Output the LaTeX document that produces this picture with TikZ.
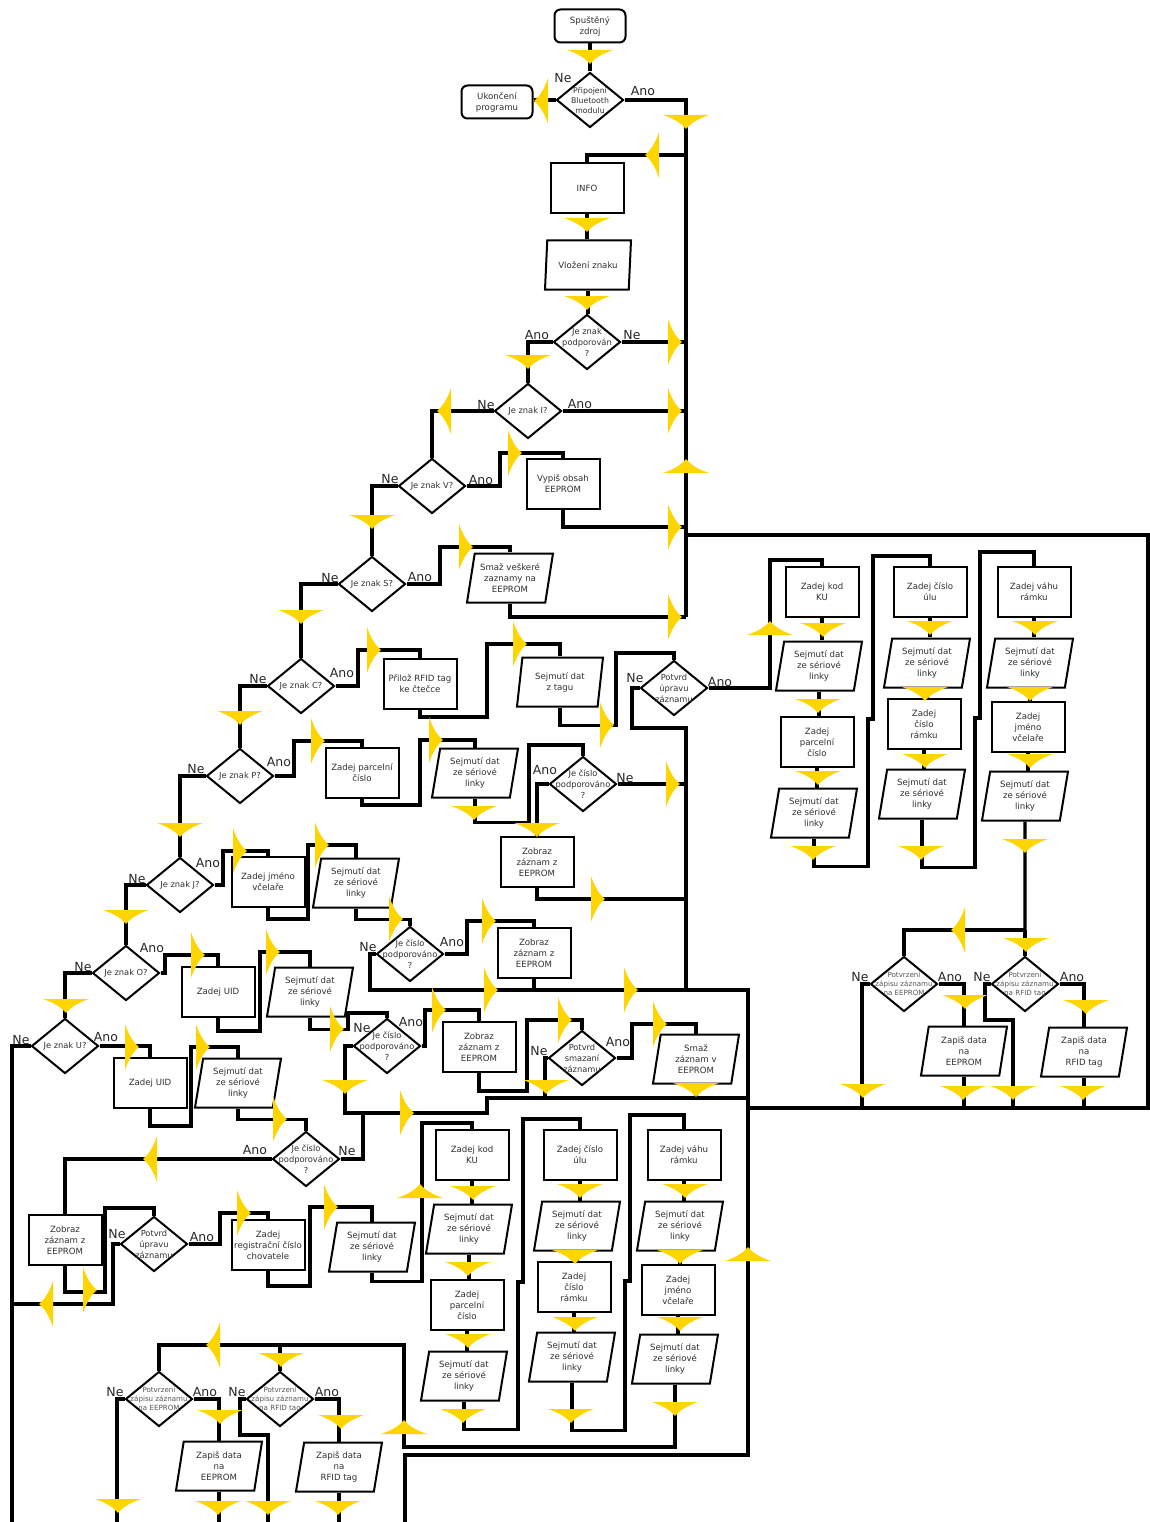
\documentclass[tikz,border=0pt]{standalone}
\usepackage{fontspec}
\setmainfont{DejaVu Sans}
\usepackage{xcolor}
\usepackage{tikz}
\usetikzlibrary{shapes.geometric}
\definecolor{fcInk}{HTML}{303030}
\definecolor{fcMuted}{HTML}{555555}
\definecolor{fcTip}{HTML}{FFD500}
\pgfdeclarelayer{front}
\pgfsetlayers{main,front}
\tikzset{
  fc diagram/.style={font=\fontsize{8.6}{11}\selectfont, text=fcInk},
  fc shape/.style={draw=black, line width=2pt, fill=white, align=center, inner sep=1pt},
  fc box/.style={fc shape, rectangle, minimum width=73pt, minimum height=50pt},
  fc terminal/.style={fc shape, rectangle, rounded corners=6pt, minimum width=71pt, minimum height=33pt},
  fc io/.style={fc shape, trapezium, trapezium left angle=76, trapezium right angle=104,
    trapezium stretches body=true, minimum width=86pt, minimum height=49pt, inner xsep=0pt},
  fc decision/.style={fc shape, diamond, minimum width=67pt, minimum height=55pt, inner sep=0pt},
  fc dtext/.style={align=center, inner sep=0pt, font=\fontsize{8.3}{11}\selectfont},
  fc dmid/.style={fc dtext, font=\fontsize{7.8}{10}\selectfont},
  fc dsmall/.style={fc dtext, font=\fontsize{7.1}{8.9}\selectfont, text=fcMuted},
  fc answer/.style={font=\fontsize{12.5}{13}\selectfont, text=black!85, inner sep=0pt},
  fc line/.style={draw=black, line width=3.2pt},
  fc down/.style={rotate=-90},
  fc up/.style={rotate=90},
  fc left/.style={rotate=180},
  fc tip/.pic={\begin{pgfonlayer}{front}
    \fill[fcTip] (7,0) .. controls (2,4) and (-3,11) .. (-7,23) -- (-7,-23)
      .. controls (-3,-11) and (2,-4) .. (7,0) -- cycle;
    \end{pgfonlayer}}
}
\newcommand{\fcColumns}{%
  \node[fc box] (kod) at (472,1155) {Zadej kod\\KU};
  \node[fc io] (kodSer) at (469,1229) {Sejmutí dat\\ze sériové\\linky};
  \node[fc box] (parc) at (467,1305) {Zadej\\parcelní\\číslo};
  \node[fc io] (parcSer) at (464,1376) {Sejmutí dat\\ze sériové\\linky};
  \node[fc box] (ul) at (580,1155) {Zadej číslo\\úlu};
  \node[fc io] (ulSer) at (577,1226) {Sejmutí dat\\ze sériové\\linky};
  \node[fc box] (ram) at (574,1287) {Zadej\\číslo\\rámku};
  \node[fc io] (ramSer) at (572,1357) {Sejmutí dat\\ze sériové\\linky};
  \node[fc box] (vaha) at (684,1155) {Zadej váhu\\rámku};
  \node[fc io] (vahaSer) at (680,1226) {Sejmutí dat\\ze sériové\\linky};
  \node[fc box] (jmeno) at (678,1290) {Zadej\\jméno\\včelaře};
  \node[fc io] (jmenoSer) at (675,1359) {Sejmutí dat\\ze sériové\\linky};
  \draw[fc line] (kod.south) -- (kod.south |- kodSer.north);
  \draw[fc line] (kodSer.south) -- (kodSer.south |- parc.north);
  \draw[fc line] (parc.south) -- (parc.south |- parcSer.north);
  \draw[fc line] (parcSer.south) -- ++(0,28) -| (518,1282) -- (523,1282) -- (523,1119) -| (ul.north);
  \draw[fc line] (ul.south) -- (ul.south |- ulSer.north);
  \draw[fc line] (ulSer.south) -- (ulSer.south |- ram.north);
  \draw[fc line] (ram.south) -- (ram.south |- ramSer.north);
  \draw[fc line] (ramSer.south) -- ++(0,48) -| (625,1281) -- (630,1281) -- (630,1115) -| (vaha.north);
  \draw[fc line] (vaha.south) -- (vaha.south |- vahaSer.north);
  \draw[fc line] (vahaSer.south) -- (vahaSer.south |- jmeno.north);
  \draw[fc line] (jmeno.south) -- (jmeno.south |- jmenoSer.north);
  \pic[fc down] at (473,1193) {fc tip};
  \pic[fc down] at (468,1269) {fc tip};
  \pic[fc down] at (468,1341) {fc tip};
  \pic[fc down] at (463,1416) {fc tip};
  \pic[fc down] at (580,1191) {fc tip};
  \pic[fc down] at (575,1257) {fc tip};
  \pic[fc down] at (575,1324) {fc tip};
  \pic[fc down] at (571,1416) {fc tip};
  \pic[fc down] at (685,1191) {fc tip};
  \pic[fc down] at (680,1257) {fc tip};
  \pic[fc down] at (680,1324) {fc tip};
  \pic[fc down] at (675,1409) {fc tip};
}
\newcommand{\fcWrite}{%
  \coordinate (wrjoin) at (280,1345);
  \coordinate (wrBase) at (0,1523);
  \node[fc decision, label={[fc dsmall]center:Potvrzení\\zápisu záznamu\\na EEPROM}] (wrEq) at (159,1399) {};
  \node[fc decision, label={[fc dsmall]center:Potvrzení\\zápisu záznamu\\na RFID tag}] (wrRq) at (280,1399) {};
  \node[fc io] (wrE) at (219,1466) {Zapiš data\\na\\EEPROM};
  \node[fc io] (wrR) at (339,1467) {Zapiš data\\na\\RFID tag};
  \node[fc answer] (wrEq-ne) at (115,1392) {Ne};
  \node[fc answer] (wrEq-ano) at (205,1392) {Ano};
  \node[fc answer] (wrRq-ne) at (237,1392) {Ne};
  \node[fc answer] (wrRq-ano) at (327,1392) {Ano};
  \draw[fc line] (wrjoin) -| (wrEq.north);
  \draw[fc line] (wrjoin) -- (wrRq.north);
  \draw[fc line] (wrEq.west) -| (117,1523);
  \draw[fc line] (wrEq.east) -| (wrE.north);
  \draw[fc line] (wrE.south) -- (wrE.south |- wrBase);
  \draw[fc line] (wrRq.west) -| (240,1435) -| (268,1523);
  \draw[fc line] (wrRq.east) -| (wrR.north);
  \draw[fc line] (wrR.south) -- (wrR.south |- wrBase);
  \pic[fc left] at (213,1345) {fc tip};
  \pic[fc down] at (281,1360) {fc tip};
  \pic[fc down] at (118,1506) {fc tip};
  \pic[fc down] at (220,1417) {fc tip};
  \pic[fc down] at (218,1508) {fc tip};
  \pic[fc down] at (268,1508) {fc tip};
  \pic[fc down] at (341,1422) {fc tip};
  \pic[fc down] at (338,1508) {fc tip};
}
\begin{document}
\begin{tikzpicture}[fc diagram, x=1pt, y=-1pt]
\useasboundingbox (0,0) rectangle (1150,1522);
\node[fc terminal] (start) at (590,26) {Spuštěný\\zdroj};
\node[fc decision, label={[fc dmid]center:Připojení\\Bluetooth\\modulu}] (dBT) at (590,100) {};
\node[fc terminal] (stop) at (497,102) {Ukončení\\programu};
\node[fc box] (info) at (587,188) {INFO};
\node[fc io] (vloz) at (588,265) {Vložení znaku};
\node[fc decision, label={[fc dtext]center:Je znak\\podporován\\?}] (dPodp) at (587,342) {};
\node[fc decision, label={[fc dtext]center:Je znak I?}] (dI) at (528,411) {};
\node[fc decision, label={[fc dtext]center:Je znak V?}] (dV) at (432,486) {};
\node[fc box] (vypis) at (563,484) {Vypiš obsah\\EEPROM};
\node[fc decision, label={[fc dtext]center:Je znak S?}] (dS) at (372,584) {};
\node[fc io] (smazVse) at (510,578) {Smaž veškeré\\zaznamy na\\EEPROM};
\node[fc decision, label={[fc dtext]center:Je znak C?}] (dC) at (301,686) {};
\node[fc box] (priloz) at (420,684) {Přilož RFID tag\\ke čtečce};
\node[fc io] (tagData) at (560,682) {Sejmutí dat\\z tagu};
\node[fc decision, label={[fc dtext]center:Potvrd\\úpravu\\záznamu}] (dEditC) at (674,688) {};
\node[fc decision, label={[fc dtext]center:Je znak P?}] (dP) at (240,776) {};
\node[fc box] (parcP) at (362,773) {Zadej parcelní\\číslo};
\node[fc io] (serP) at (475,773) {Sejmutí dat\\ze sériové\\linky};
\node[fc decision, label={[fc dtext]center:Je číslo\\podporováno\\?}] (numP) at (583,784) {};
\node[fc box] (showP) at (537,862) {Zobraz\\záznam z\\EEPROM};
\node[fc decision, label={[fc dtext]center:Je znak J?}] (dJ) at (180,885) {};
\node[fc box] (nameJ) at (268,882) {Zadej jméno\\včelaře};
\node[fc io] (serJ) at (356,883) {Sejmutí dat\\ze sériové\\linky};
\node[fc decision, label={[fc dtext]center:Je číslo\\podporováno\\?}] (numJ) at (410,954) {};
\node[fc box] (showJ) at (534,953) {Zobraz\\záznam z\\EEPROM};
\node[fc decision, label={[fc dtext]center:Je znak O?}] (dO) at (126,973) {};
\node[fc box] (uidO) at (218,992) {Zadej UID};
\node[fc io] (serO) at (310,992) {Sejmutí dat\\ze sériové\\linky};
\node[fc decision, label={[fc dtext]center:Je číslo\\podporováno\\?}] (numO) at (387,1046) {};
\node[fc box] (showO) at (479,1047) {Zobraz\\záznam z\\EEPROM};
\node[fc decision, label={[fc dtext]center:Potvrd\\smazaní\\záznamu}] (dDel) at (582,1058) {};
\node[fc io] (delRec) at (696,1059) {Smaž\\záznam v\\EEPROM};
\node[fc decision, label={[fc dtext]center:Je znak U?}] (dU) at (65,1046) {};
\node[fc box] (uidU) at (150,1083) {Zadej UID};
\node[fc io] (serU) at (238,1083) {Sejmutí dat\\ze sériové\\linky};
\node[fc decision, label={[fc dtext]center:Je číslo\\podporováno\\?}] (numU) at (306,1159) {};
\node[fc box] (showU) at (65,1240) {Zobraz\\záznam z\\EEPROM};
\node[fc decision, label={[fc dtext]center:Potvrd\\úpravu\\záznamu}] (dEditU) at (154,1244) {};
\node[fc box] (regU) at (268,1245) {Zadej\\registrační číslo\\chovatele};
\node[fc io] (serReg) at (372,1247) {Sejmutí dat\\ze sériové\\linky};
\begin{scope}[name prefix=lo-]
\fcColumns
\fcWrite
\end{scope}
\begin{scope}[shift={(350,-563)}, name prefix=up-]
\fcColumns
\end{scope}
\begin{scope}[shift={(745,-415)}, name prefix=upw-]
\fcWrite
\end{scope}
\node[fc answer] (dBT-ne) at (563,78) {Ne};
\node[fc answer] (dBT-ano) at (643,91) {Ano};
\node[fc answer] (dPodp-ano) at (537,335) {Ano};
\node[fc answer] (dPodp-ne) at (632,335) {Ne};
\node[fc answer] (dI-ne) at (486,405) {Ne};
\node[fc answer] (dI-ano) at (580,404) {Ano};
\node[fc answer] (dV-ne) at (390,479) {Ne};
\node[fc answer] (dV-ano) at (481,480) {Ano};
\node[fc answer] (dS-ne) at (330,578) {Ne};
\node[fc answer] (dS-ano) at (420,577) {Ano};
\node[fc answer] (dC-ne) at (258,679) {Ne};
\node[fc answer] (dC-ano) at (342,673) {Ano};
\node[fc answer] (dP-ne) at (196,769) {Ne};
\node[fc answer] (dP-ano) at (279,762) {Ano};
\node[fc answer] (dJ-ne) at (137,879) {Ne};
\node[fc answer] (dJ-ano) at (208,863) {Ano};
\node[fc answer] (dO-ne) at (83,967) {Ne};
\node[fc answer] (dO-ano) at (152,948) {Ano};
\node[fc answer] (dU-ne) at (21,1040) {Ne};
\node[fc answer] (dU-ano) at (106,1037) {Ano};
\node[fc answer] (dEditC-ne) at (635,678) {Ne};
\node[fc answer] (dEditC-ano) at (720,682) {Ano};
\node[fc answer] (numP-ano) at (545,770) {Ano};
\node[fc answer] (numP-ne) at (625,778) {Ne};
\node[fc answer] (numJ-ne) at (368,947) {Ne};
\node[fc answer] (numJ-ano) at (452,942) {Ano};
\node[fc answer] (numO-ne) at (362,1028) {Ne};
\node[fc answer] (numO-ano) at (411,1022) {Ano};
\node[fc answer] (dDel-ne) at (539,1051) {Ne};
\node[fc answer] (dDel-ano) at (618,1042) {Ano};
\node[fc answer] (numU-ano) at (255,1150) {Ano};
\node[fc answer] (numU-ne) at (347,1151) {Ne};
\node[fc answer] (dEditU-ne) at (117,1234) {Ne};
\node[fc answer] (dEditU-ano) at (202,1237) {Ano};
\coordinate (trunkTop) at (686,155);
\coordinate (trunkBot) at (686,617);
\draw[fc line] (start) -- (dBT);
\draw[fc line] (dBT.west) -- (dBT.west -| stop.east);
\draw[fc line] (dBT.east) -| (trunkTop) -| (info.north);
\draw[fc line] (trunkBot) -- (trunkTop);
\draw[fc line] (info.south) -- (info.south |- vloz.north);
\draw[fc line] (vloz.south) -- (vloz.south |- dPodp.north);
\draw[fc line] (dPodp.east) -- (dPodp.east -| trunkTop);
\draw[fc line] (dPodp.west) -| (dI.north);
\draw[fc line] (dI.east) -- (dI.east -| trunkTop);
\draw[fc line] (dI.west) -| (dV.north);
\draw[fc line] (dV.east) -| (500,453) -| (vypis.north);
\draw[fc line] (vypis.south) |- (686,527);
\draw[fc line] (686,535) -| (1148,1108) -- (748,1108);
\draw[fc line] (dV.west) -| (dS.north);
\draw[fc line] (dS.east) -| (440,547) -| (smazVse.north);
\draw[fc line] (smazVse.south) |- (trunkBot);
\draw[fc line] (dS.west) -| (dC.north);
\draw[fc line] (dC.east) -| (358,650) -| (priloz.north);
\draw[fc line] (priloz.south) -- ++(0,7) -| (487,644) -| (tagData.north);
\draw[fc line] (tagData.south) -- ++(0,18) -| (616,653) -| (dEditC.north);
\draw[fc line] (dEditC.west) -| (632,728) -| (686,990);
\draw[fc line] (dEditC.east) -| (770,560) -| (up-kod.north);
\draw[fc line] (dC.west) -| (dP.north);
\draw[fc line] (dP.east) -| (294,741) -| (parcP.north);
\draw[fc line] (parcP.south) -- ++(0,6) -| (420,740) -| (serP.north);
\draw[fc line] (serP.south) -- ++(0,24) -| (529,745) -| (numP.north);
\draw[fc line] (numP.east) -- (686,784);
\draw[fc line] (numP.west) -| (showP.north);
\draw[fc line] (showP.south) |- (686,899);
\draw[fc line] (dP.west) -| (dJ.north);
\draw[fc line] (dJ.east) -| (223,851) -| (nameJ.north);
\draw[fc line] (nameJ.south) -- ++(0,11) -| (308,845) -| (serJ.north);
\draw[fc line] (serJ.south) -- ++(0,11) -| (numJ.north);
\draw[fc line] (numJ.east) -| (467,921) -| (showJ.north);
\draw[fc line] (numJ.west) -| (370,990) -- (748,990) -- (748,1455) -| (405,1522);
\draw[fc line] (showJ.south) -- (534,990);
\draw[fc line] (dJ.west) -| (dO.north);
\draw[fc line] (dO.east) -| (165,955) -| (uidO.north);
\draw[fc line] (uidO.south) -- ++(0,13) -| (260,952) -| (serO.north);
\draw[fc line] (serO.south) -- ++(0,12) -| (348,1013) -| (numO.north);
\draw[fc line] (numO.east) -| (425,1010) -| (showO.north);
\draw[fc line] (numO.west) -| (345,1113) -| (487,1098) -- (748,1098);
\draw[fc line] (showO.south) -- ++(0,18) -| (527,1020) -| (dDel.north);
\draw[fc line] (dDel.west) -| (545,1098);
\draw[fc line] (dDel.east) -| (632,1024) -| (delRec.north);
\draw[fc line] (delRec.south) -- (696,1098);
\draw[fc line] (dO.west) -| (dU.north);
\draw[fc line] (dU.east) -| (uidU.north);
\draw[fc line] (uidU.south) -- ++(0,17) -| (191,1047) -| (serU.north);
\draw[fc line] (serU.south) -- ++(0,11) -| (numU.north);
\draw[fc line] (numU.east) -| (363,1113);
\draw[fc line] (numU.west) -| (showU.north);
\draw[fc line] (showU.south) -- ++(0,26) -| (105,1208) -| (dEditU.north);
\draw[fc line] (dEditU.west) -| (113,1304) -- (12,1304);
\draw[fc line] (dEditU.east) -| (220,1213) -| (regU.north);
\draw[fc line] (regU.south) -- ++(0,15) -| (310,1207) -| (serReg.north);
\draw[fc line] (serReg.south) -- ++(0,9) -| (422,1123) -| (lo-kod.north);
\draw[fc line] (dU.west) -| (12,1522);
\draw[fc line] (lo-jmenoSer.south) |- (404,1447) -- (404,1345) -- (lo-wrjoin);
\draw[fc line] (up-jmenoSer.south) -- (upw-wrjoin);
\pic[fc down] at (590,57) {fc tip};
\pic[fc down] at (686,122) {fc tip};
\pic[fc down] at (587,225) {fc tip};
\pic[fc down] at (587,303) {fc tip};
\pic[fc down] at (528,362) {fc tip};
\pic[fc down] at (372,522) {fc tip};
\pic[fc down] at (301,617) {fc tip};
\pic[fc down] at (240,718) {fc tip};
\pic[fc down] at (474,813) {fc tip};
\pic[fc down] at (537,830) {fc tip};
\pic[fc down] at (180,830) {fc tip};
\pic[fc down] at (126,917) {fc tip};
\pic[fc down] at (66,1006) {fc tip};
\pic[fc down] at (345,1087) {fc tip};
\pic[fc down] at (546,1087) {fc tip};
\pic[fc down] at (696,1090) {fc tip};
\pic[fc left] at (541,101) {fc tip};
\pic[fc left] at (652,155) {fc tip};
\pic[fc left] at (444,411) {fc tip};
\pic[fc left] at (150,1159) {fc tip};
\pic[fc left] at (46,1304) {fc tip};
\pic at (675,342) {fc tip};
\pic at (675,411) {fc tip};
\pic at (515,453) {fc tip};
\pic at (675,527) {fc tip};
\pic at (466,547) {fc tip};
\pic at (675,617) {fc tip};
\pic at (374,650) {fc tip};
\pic at (520,644) {fc tip};
\pic at (607,725) {fc tip};
\pic at (318,741) {fc tip};
\pic at (436,740) {fc tip};
\pic at (673,784) {fc tip};
\pic at (598,899) {fc tip};
\pic at (240,851) {fc tip};
\pic at (322,845) {fc tip};
\pic at (396,919) {fc tip};
\pic at (489,921) {fc tip};
\pic at (491,990) {fc tip};
\pic at (631,990) {fc tip};
\pic at (198,955) {fc tip};
\pic at (273,952) {fc tip};
\pic at (337,1029) {fc tip};
\pic at (439,1010) {fc tip};
\pic at (407,1113) {fc tip};
\pic at (565,1020) {fc tip};
\pic at (660,1024) {fc tip};
\pic at (132,1047) {fc tip};
\pic at (203,1047) {fc tip};
\pic at (280,1119) {fc tip};
\pic at (90,1290) {fc tip};
\pic at (244,1213) {fc tip};
\pic at (331,1207) {fc tip};
\pic[fc up] at (686,466) {fc tip};
\pic[fc up] at (748,1254) {fc tip};
\pic[fc up] at (770,628) {fc tip};
\pic[fc up] at (420,1191) {fc tip};
\pic[fc up] at (404,1427) {fc tip};
\end{tikzpicture}
\end{document}
